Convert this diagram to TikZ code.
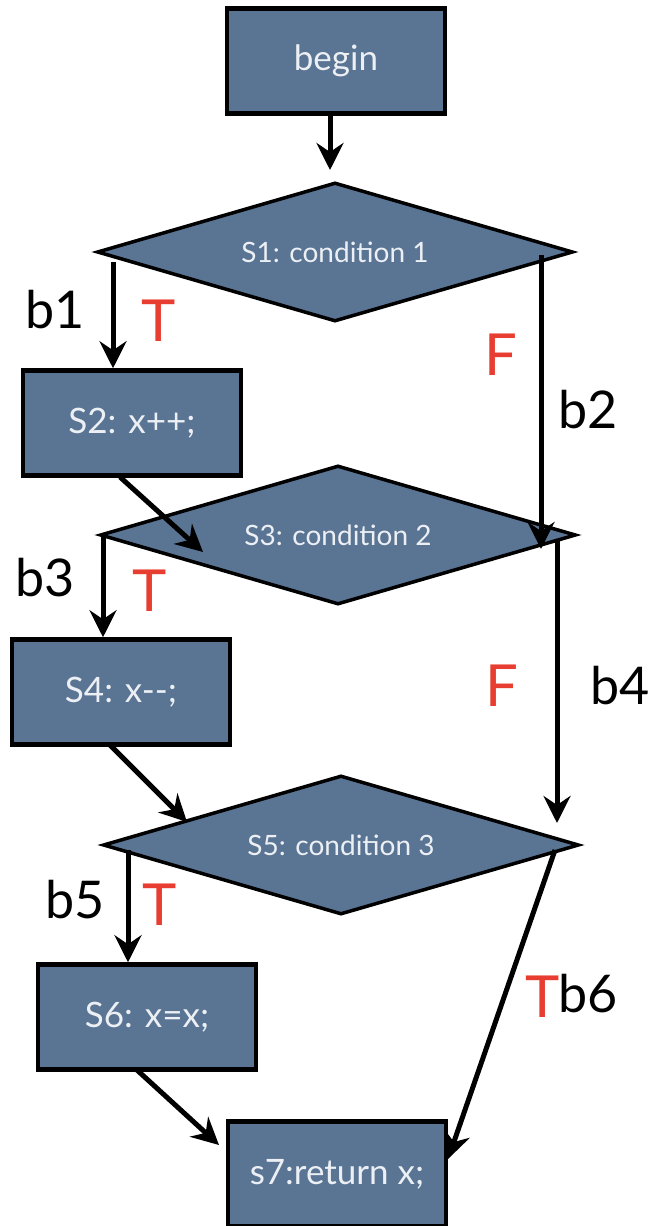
\documentclass[tikz,border=0pt]{standalone}
\usepackage{fontspec}
\setmainfont{Lato}
\usetikzlibrary{shapes.geometric,arrows.meta}
\definecolor{boxfill}{RGB}{90,116,148}
\definecolor{boxtext}{RGB}{236,240,244}
\definecolor{lblred}{RGB}{232,62,50}
\tikzset{
  stmt/.style={draw=black,line width=4.5pt,fill=boxfill,text=boxtext,rectangle,
    minimum width=218pt,minimum height=105pt,inner sep=0pt,font=\fontsize{35}{40}\selectfont},
  cond/.style={draw=black,line width=3.5pt,fill=boxfill,text=boxtext,diamond,shape aspect=3.42,
    minimum width=476pt,minimum height=139pt,inner sep=0pt,font=\fontsize{28}{32}\selectfont},
  flow/.style={line width=5pt,-{Stealth[length=27pt,width=27pt,inset=9pt]}},
  redlbl/.style={text=lblred,font=\fontsize{58}{60}\selectfont,inner sep=0pt},
  blklbl/.style={text=black,font=\fontsize{52}{56}\selectfont,inner sep=0pt}
}
\begin{document}
\begin{tikzpicture}[x=1pt,y=-1pt]
\useasboundingbox (0,0) rectangle (653,1226);
\node[stmt] (begin) at (336,61) {begin};
\node[cond] (s1) at (335,252) {S1: condition 1};
\node[stmt] (s2) at (132,423) {S2: x++;};
\node[cond] (s3) at (338,535) {S3: condition 2};
\node[stmt] (s4) at (121,692) {S4: x-{}-;};
\node[cond] (s5) at (341,845) {S5: condition 3};
\node[stmt] (s6) at (147,1017) {S6: x=x;};
\node[stmt] (s7) at (337,1174) {s7:return x;};

\coordinate (a0) at (330,113);
\coordinate (a0e) at (330,170);
\coordinate (b1s) at (113,262);
\coordinate (b2s) at (541,255);
\coordinate (b2e) at (541,549);
\coordinate (c2s) at (120,477);
\coordinate (c2e) at (203,552);
\coordinate (b3s) at (103,535);
\coordinate (b4s) at (557,540);
\coordinate (b4e) at (557,823);
\coordinate (c4s) at (110,745);
\coordinate (c4e) at (187,822);
\coordinate (b5s) at (128,850);
\coordinate (c6s) at (137,1070);
\coordinate (c6e) at (219,1145);
\coordinate (b6s) at (555,850);
\coordinate (b6e) at (448,1159);

\draw[flow] (a0) -- (a0e);
\draw[flow] (b1s) -- (b1s |- s2.north);
\draw[flow] (b2s) -- (b2e);
\draw[flow] (c2s) -- (c2e);
\draw[flow] (b3s) -- (b3s |- s4.north);
\draw[flow] (b4s) -- (b4e);
\draw[flow] (c4s) -- (c4e);
\draw[flow] (b5s) -- (b5s |- s6.north);
\draw[flow] (c6s) -- (c6e);
\draw[flow] (b6s) -- (b6e);

\node[blklbl] (lb1) at (55,310) {b1};
\node[redlbl] (t1) at (159,321) {T};
\node[redlbl] (f1) at (501,355) {F};
\node[blklbl] (lb2) at (588,410) {b2};
\node[blklbl] (lb3) at (45,578) {b3};
\node[redlbl] (t3) at (150,591) {T};
\node[redlbl] (f3) at (502,686) {F};
\node[blklbl] (lb4) at (620,686) {b4};
\node[blklbl] (lb5) at (75,900) {b5};
\node[redlbl] (t5) at (160,905) {T};
\node[redlbl] (t6) at (543,997) {T};
\node[blklbl] (lb6) at (588,994) {b6};
\end{tikzpicture}
\end{document}
